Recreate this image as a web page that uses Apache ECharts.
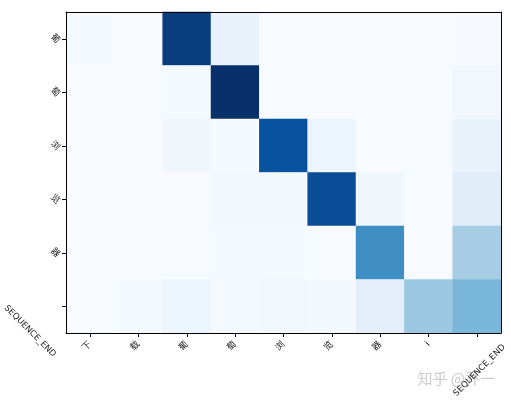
<!DOCTYPE html>
<html>
<head>
<meta charset="utf-8">
<script src="https://cdn.jsdelivr.net/npm/echarts@6/dist/echarts.min.js"></script>
<style>html,body{margin:0;padding:0;background:#fff}#c{width:511px;height:404px}</style>
</head>
<body>
<div id="c"></div>
<script>
const xLabels = ['下', '载', '葡', '萄', '浏', '览', '器', 'i', 'SEQUENCE_END'];
const yLabels = ['葡', '萄', '浏', '览', '器', 'SEQUENCE_END'];
const row0 = [0.01, 0.0, 0.95, 0.07, 0.0, 0.0, 0.0, 0.0, 0.005];
const row1 = [0.0, 0.0, 0.01, 1.0, 0.0, 0.0, 0.0, 0.0, 0.03];
const row2 = [0.0, 0.0, 0.04, 0.01, 0.87, 0.05, 0.0, 0.0, 0.07];
const row3 = [0.0, 0.0, 0.0, 0.02, 0.02, 0.89, 0.04, 0.0, 0.11];
const row4 = [0.0, 0.0, 0.0, 0.01, 0.01, 0.0, 0.64, 0.0, 0.35];
const row5 = [0.0, 0.01, 0.05, 0.01, 0.03, 0.02, 0.09, 0.38, 0.46];
const rows = [row0, row1, row2, row3, row4, row5];
const blues = ['#f7fbff', '#deebf7', '#c6dbef', '#9ecae1', '#6baed6', '#4292c6', '#2171b5', '#08519c', '#08306b'];

const data = [];
rows.forEach((r, yi) => r.forEach((v, xi) => data.push([xi, yi, v])));

const font = 'DejaVu Sans, Noto Sans CJK SC';
const xData = xLabels.map(l => l === 'SEQUENCE_END'
  ? { value: l, textStyle: { fontSize: 8.5, align: 'center', verticalAlign: 'top', padding: [17, 35, 0, 0] } }
  : l);
const yData = yLabels.map(l => l === 'SEQUENCE_END'
  ? { value: l, textStyle: { fontSize: 8.5, align: 'center', verticalAlign: 'top', padding: [31, 0, 0, 0] } }
  : l);

const chart = echarts.init(document.getElementById('c'), null, { renderer: 'canvas' });
chart.setOption({
  animation: false,
  title: {
    text: '知乎 @乔一', right: 11, bottom: 13,
    textStyle: { color: '#cdcdcd', fontSize: 15, fontWeight: 'normal', fontFamily: 'Noto Sans CJK SC' }
  },
  grid: { left: 66, right: 10, top: 12, bottom: 71 },
  visualMap: { show: false, min: 0, max: 1, inRange: { color: blues } },
  xAxis: [{
    type: 'category', data: xData, position: 'bottom',
    axisLine: { show: true, lineStyle: { color: '#000', width: 1 } },
    axisTick: { show: true, alignWithLabel: true, length: 4, lineStyle: { color: '#000' } },
    axisLabel: { interval: 0, rotate: 45, margin: 10, fontSize: 9, color: '#222', fontFamily: font, align: 'right', verticalAlign: 'middle' },
    splitLine: { show: false }, z: 10
  }, {
    type: 'category', data: xLabels, position: 'top',
    axisLine: { show: true, lineStyle: { color: '#000', width: 1 } },
    axisTick: { show: false }, axisLabel: { show: false }, z: 10
  }],
  yAxis: [{
    type: 'category', data: yData, inverse: true, position: 'left',
    axisLine: { show: true, lineStyle: { color: '#000', width: 1 } },
    axisTick: { show: true, alignWithLabel: true, length: 4, lineStyle: { color: '#000' } },
    axisLabel: { interval: 0, rotate: -45, margin: 11, fontSize: 9, color: '#222', fontFamily: font, align: 'center', verticalAlign: 'middle' },
    splitLine: { show: false }, z: 10
  }, {
    type: 'category', data: yLabels, inverse: true, position: 'right',
    axisLine: { show: true, lineStyle: { color: '#000', width: 1 } },
    axisTick: { show: false }, axisLabel: { show: false }, z: 10
  }],
  series: [{
    type: 'heatmap', data: data, xAxisIndex: 0, yAxisIndex: 0,
    itemStyle: { borderWidth: 0 },
    emphasis: { disabled: true }
  }]
});
</script>
</body>
</html>
